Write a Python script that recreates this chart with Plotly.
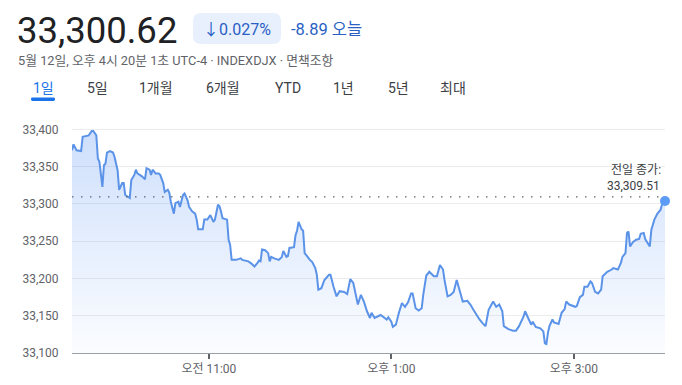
import plotly.graph_objects as go

# ---------------- data ----------------
minutes = [0, 1, 3, 6, 7, 9, 11, 13, 14, 16,
           17, 18, 20, 21, 22, 23, 25, 27, 28, 30,
           31, 33, 34, 35, 36, 38, 39, 41, 42, 43,
           46, 48, 49, 51, 52, 53, 55, 57, 58, 60,
           61, 63, 64, 65, 67, 68, 70, 71, 73, 74,
           76, 77, 79, 81, 82, 83, 86, 87, 89, 91,
           93, 94, 96, 97, 98, 99, 102, 103, 104, 105,
           108, 111, 112, 114, 116, 118, 120, 122, 123, 124,
           125, 127, 129, 130, 131, 133, 136, 138, 139, 141,
           142, 143, 146, 147, 148, 149, 151, 152, 153, 155,
           156, 158, 160, 161, 162, 164, 166, 169, 170, 172,
           174, 176, 179, 181, 182, 183, 185, 188, 190, 192,
           194, 196, 197, 199, 203, 205, 207, 208, 210, 211,
           213, 215, 217, 219, 221, 223, 224, 226, 228, 230,
           231, 233, 235, 238, 240, 242, 244, 245, 247, 249,
           251, 253, 255, 257, 260, 262, 264, 266, 268, 270,
           272, 274, 276, 277, 279, 281, 283, 284, 287, 290,
           292, 294, 297, 298, 300, 302, 303, 305, 308, 310,
           311, 312, 313, 314, 316, 317, 320, 322, 324, 325,
           327, 331, 332, 334, 336, 337, 339, 341, 342, 344,
           346, 348, 349, 352, 355, 356, 359, 361, 362, 364,
           365, 366, 367, 369, 371, 373, 374, 376, 377, 379,
           380, 381, 383, 385, 387, 388, 390]

values = [33372, 33380, 33372, 33371, 33390, 33391, 33392, 33398, 33398, 33392,
          33361, 33357, 33323, 33352, 33354, 33369, 33371, 33369, 33363, 33345,
          33319, 33328, 33328, 33312, 33311, 33308, 33332, 33339, 33346, 33341,
          33337, 33333, 33348, 33346, 33339, 33346, 33341, 33341, 33339, 33328,
          33316, 33319, 33315, 33303, 33287, 33301, 33303, 33296, 33312, 33314,
          33305, 33296, 33290, 33287, 33279, 33266, 33266, 33279, 33279, 33285,
          33276, 33279, 33299, 33297, 33290, 33281, 33279, 33252, 33245, 33225,
          33225, 33227, 33225, 33224, 33223, 33220, 33216, 33221, 33224, 33223,
          33239, 33238, 33234, 33223, 33229, 33227, 33225, 33229, 33237, 33229,
          33230, 33241, 33242, 33258, 33264, 33276, 33266, 33264, 33234, 33229,
          33226, 33222, 33214, 33205, 33185, 33187, 33198, 33205, 33205, 33189,
          33176, 33183, 33182, 33179, 33188, 33199, 33194, 33165, 33178, 33169,
          33156, 33147, 33154, 33147, 33151, 33148, 33145, 33148, 33142, 33135,
          33138, 33154, 33167, 33162, 33168, 33180, 33180, 33160, 33157, 33160,
          33178, 33204, 33209, 33203, 33203, 33218, 33212, 33198, 33176, 33178,
          33182, 33198, 33185, 33169, 33170, 33165, 33158, 33151, 33145, 33140,
          33136, 33158, 33165, 33169, 33162, 33165, 33156, 33136, 33132, 33130,
          33130, 33136, 33149, 33156, 33147, 33138, 33142, 33135, 33133, 33129,
          33113, 33112, 33127, 33136, 33145, 33141, 33139, 33154, 33159, 33169,
          33165, 33162, 33163, 33175, 33178, 33189, 33189, 33196, 33194, 33182,
          33180, 33185, 33203, 33209, 33212, 33214, 33212, 33221, 33229, 33234,
          33261, 33263, 33243, 33249, 33252, 33253, 33260, 33261, 33253, 33247,
          33243, 33265, 33279, 33287, 33292, 33299, 33304]

prev_close = 33309.51
prev_close_label = ["전일 종가:", "33,309.51"]
price_text = "33,300.62"
change_pct_text = "↓0.027%"
change_abs_text = "-8.89 오늘"
subtitle_text = "5월 12일, 오후 4시 20분 1초 UTC-4 · INDEXDJX · 면책조항"
tabs = ["1일", "5일", "1개월", "6개월", "YTD", "1년", "5년", "최대"]

y_tick_vals = [33100, 33150, 33200, 33250, 33300, 33350, 33400]
y_tick_text = ["33,100", "33,150", "33,200", "33,250", "33,300", "33,350", "33,400"]
x_tick_vals = [90, 210, 330]
x_tick_text = ["오전 11:00", "오후 1:00", "오후 3:00"]
session_minutes = [0, 390]
y_range = [33100, 33410]

# ---------------- layout constants ----------------
OFF = 8                          # page body margin
WIN_W, WIN_H = 682, 385
W, H = WIN_W - 2 * OFF, WIN_H - 2 * OFF
L, R, T, B = 72, 665, 122, 353   # plot-area edges in window pixels
FONT = "Roboto, 'Noto Sans CJK KR', 'Noto Sans', sans-serif"
LINE_COLOR = "#5b93e8"
BLUE = "#1a73e8"
TEXT_DARK = "#202124"
TEXT_MID = "#3c4043"
TEXT_GRAY = "#5f6368"


def pxx(x):
    return (x - L) / (R - L)


def pxy(y):
    return (B - y) / (B - T)


def ann(text, x, y, size, color, xanchor="left"):
    return dict(text=text, x=pxx(x), y=pxy(y), xref="paper", yref="paper",
                xanchor=xanchor, yanchor="middle", showarrow=False,
                borderpad=0, font=dict(size=size, color=color, family=FONT))


def rounded_rect(x0, y0, x1, y1, r):
    pts = [("M", x0 + r, y0), ("L", x1 - r, y0), ("Q", x1, y0, x1, y0 + r),
           ("L", x1, y1 - r), ("Q", x1, y1, x1 - r, y1), ("L", x0 + r, y1),
           ("Q", x0, y1, x0, y1 - r), ("L", x0, y0 + r), ("Q", x0, y0, x0 + r, y0)]
    parts = []
    for p in pts:
        cmd = p[0]
        coords = p[1:]
        s = []
        for i in range(0, len(coords), 2):
            s.append(f"{pxx(coords[i]):.5f},{pxy(coords[i + 1]):.5f}")
        parts.append(cmd + " " + " ".join(s))
    return " ".join(parts) + " Z"


fig = go.Figure()

fig.add_trace(go.Scatter(x=session_minutes, y=[y_range[0], y_range[0]], mode="lines",
                         line=dict(width=0, color="rgba(0,0,0,0)"), hoverinfo="skip",
                         showlegend=False))
fig.add_trace(go.Scatter(
    x=minutes, y=values, mode="lines",
    line=dict(color=LINE_COLOR, width=2),
    fill="tonexty",
    fillgradient=dict(type="vertical",
                      colorscale=[[0, "rgba(66,133,244,0.02)"], [1, "rgba(66,133,244,0.26)"]],
                      start=33100, stop=33400),
    hoverinfo="skip", showlegend=False))
fig.add_trace(go.Scatter(x=[minutes[-1]], y=[values[-1]], mode="markers",
                         marker=dict(size=10, color="#5b9cf5"), cliponaxis=False,
                         hoverinfo="skip", showlegend=False))

shapes = [
    dict(type="line", xref="x", yref="y", x0=session_minutes[0], x1=session_minutes[1],
         y0=prev_close, y1=prev_close, line=dict(color=TEXT_GRAY, width=1.3, dash="1.5px,7.5px")),
    dict(type="path", xref="paper", yref="paper", path=rounded_rect(193, 13, 281, 44, 8),
         fillcolor="#e8f0fe", line=dict(width=0)),
    dict(type="path", xref="paper", yref="paper", path=rounded_rect(31, 97.5, 55, 101, 1.5),
         fillcolor=BLUE, line=dict(width=0)),
]

annotations = [
    ann(price_text, 16, 31, 36.5, TEXT_DARK),
    ann(change_pct_text, 237, 29.5, 16, "#2a5fc4", xanchor="center"),
    ann(change_abs_text, 290, 29.5, 16.5, "#2a5fc4"),
    ann(subtitle_text, 17, 60, 12.8, TEXT_GRAY),
    ann(prev_close_label[0], 662, 170, 12, TEXT_MID, xanchor="right"),
    ann(prev_close_label[1], 661, 186, 12, TEXT_MID, xanchor="right"),
]
tab_x = [43, 97, 156, 223, 288, 343, 398, 453]
for i, t in enumerate(tabs):
    annotations.append(ann(t, tab_x[i], 88, 14, BLUE if i == 0 else TEXT_MID, xanchor="center"))

fig.update_layout(
    width=W, height=H,
    margin=dict(l=L - OFF, r=W - (R - OFF), t=T - OFF, b=H - (B - OFF), pad=0,
                autoexpand=False),
    paper_bgcolor="white", plot_bgcolor="white",
    font=dict(family=FONT, size=12, color=TEXT_GRAY),
    shapes=shapes, annotations=annotations,
    xaxis=dict(range=session_minutes, showgrid=False, zeroline=False, automargin=False,
               showline=True, linecolor="#9aa0a6", linewidth=1,
               ticks="outside", ticklen=5, tickwidth=1.5, tickcolor=TEXT_GRAY,
               tickvals=x_tick_vals, ticktext=x_tick_text,
               tickfont=dict(size=12, color=TEXT_GRAY, family=FONT)),
    yaxis=dict(range=y_range, showgrid=True, gridcolor="#ececec", gridwidth=1,
               zeroline=False, showline=False, automargin=False,
               ticks="outside", ticklen=10, tickcolor="rgba(0,0,0,0)",
               tickvals=y_tick_vals, ticktext=y_tick_text,
               tickfont=dict(size=12, color=TEXT_GRAY, family=FONT)),
)

fig.write_html("out.html")
